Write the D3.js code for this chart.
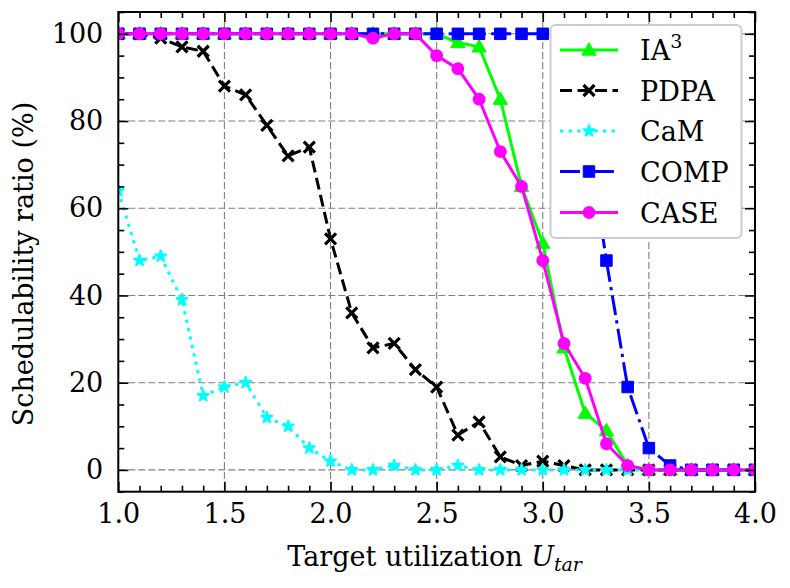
<!DOCTYPE html>
<html><head><meta charset="utf-8">
<script src="https://cdn.jsdelivr.net/npm/d3@7"></script>
<style>
body{margin:0;background:#fff}
svg text{font-family:"DejaVu Serif","DejaVuSerif","DejaVu Serif Condensed","Liberation Serif","Noto Serif",serif !important;fill:#000}
</style>
</head><body>
<svg id="c" width="790" height="588"></svg>
<script>
const utilization = [1.0,1.1,1.2,1.3,1.4,1.5,1.6,1.7,1.8,1.9,2.0,2.1,2.2,2.3,2.4,2.5,2.6,2.7,2.8,2.9,3.0,3.1,3.2,3.3,3.4,3.5,3.6,3.7,3.8,3.9,4.0];
const ia3  = [100,100,100,100,100,100,100,100,100,100,100,100,100,100,100,100,98,97,85,65,52,28,13,9,1,0,0,0,0,0,0];
const pdpa = [100,100,99,97,96,88,86,79,72,74,53,36,28,29,23,19,8,11,3,1,2,1,0,0,0,0,0,0,0,0,0];
const cam  = [64,48,49,39,17,19,20,12,10,5,2,0,0,1,0,0,1,0,0,0,0,0,0,0,0,0,0,0,0,0,0];
const comp = [100,100,100,100,100,100,100,100,100,100,100,100,100,100,100,100,100,100,100,100,100,100,80,48,19,5,1,0,0,0,0];
const caseS= [100,100,100,100,100,100,100,100,100,100,100,100,99,100,100,95,92,85,73,65,48,29,21,6,1,0,0,0,0,0,0];
const seriesNames = ["IA3","PDPA","CaM","COMP","CASE"];
const xTicks = [1.0,1.5,2.0,2.5,3.0,3.5,4.0];
const xMinor = [1.1,1.2,1.3,1.4,1.6,1.7,1.8,1.9,2.1,2.2,2.3,2.4,2.6,2.7,2.8,2.9,3.1,3.2,3.3,3.4,3.6,3.7,3.8,3.9];
const yTicks = [0,20,40,60,80,100];
const yMinor = [-5,5,10,15,25,30,35,45,50,55,65,70,75,85,90,95,105];

const L=118.3, R=755, T=12, B=491.7;
const svg = d3.select("#c");
const x = d3.scaleLinear().domain([1,4]).range([L,R]);
const y = d3.scaleLinear().domain([-5,105]).range([B,T]);

const styles = [
  {name:"IA3", data:ia3, color:"#00ff00", dash:null, marker:"tri"},
  {name:"PDPA", data:pdpa, color:"#000000", dash:"12,5.5", marker:"x"},
  {name:"CaM", data:cam, color:"#00ffff", dash:"3.3,5.3", marker:"star"},
  {name:"COMP", data:comp, color:"#0000ff", dash:"20,5.3,3.3,5.3", marker:"sq"},
  {name:"CASE", data:caseS, color:"#ff00ff", dash:null, marker:"circ"}
];

svg.append("defs").append("clipPath").attr("id","clip")
  .append("rect").attr("x",L).attr("y",T).attr("width",R-L).attr("height",B-T);

// grid
const grid = svg.append("g");
grid.selectAll(".gx").data(xTicks.slice(1,-1)).join("line")
  .attr("x1",d=>x(d)).attr("x2",d=>x(d)).attr("y1",T).attr("y2",B)
  .attr("stroke","#808080").attr("stroke-width",1.1).attr("stroke-dasharray","7,3");
grid.selectAll(".gy").data(yTicks).join("line")
  .attr("x1",L).attr("x2",R).attr("y1",d=>y(d)).attr("y2",d=>y(d))
  .attr("stroke","#808080").attr("stroke-width",1.1).attr("stroke-dasharray","7,3");

function drawMarker(g, type, color, cx, cy){
  if(type==="tri"){
    g.append("path").attr("d",d3.symbol(d3.symbolTriangle,90)()).attr("transform",`translate(${cx},${cy+1})`)
      .attr("fill",color).attr("stroke",color).attr("stroke-width",1);
  } else if(type==="x"){
    const s=5.5;
    g.append("path").attr("d",`M${cx-s},${cy-s}L${cx+s},${cy+s}M${cx-s},${cy+s}L${cx+s},${cy-s}`)
      .attr("stroke",color).attr("stroke-width",3.2).attr("fill","none");
  } else if(type==="star"){
    g.append("path").attr("d",d3.symbol(d3.symbolStar,38)()).attr("transform",`translate(${cx},${cy})`)
      .attr("fill",color).attr("stroke",color).attr("stroke-width",2).attr("stroke-linejoin","round");
  } else if(type==="sq"){
    g.append("path").attr("d",d3.symbol(d3.symbolSquare,132)()).attr("transform",`translate(${cx},${cy})`)
      .attr("fill",color).attr("stroke",color).attr("stroke-width",1);
  } else if(type==="circ"){
    g.append("circle").attr("cx",cx).attr("cy",cy).attr("r",6.4).attr("fill",color);
  }
}

const plot = svg.append("g").attr("clip-path","url(#clip)");
const line = d3.line().x(d=>x(d[0])).y(d=>y(d[1]));
styles.forEach(s=>{
  const pts = utilization.map((u,i)=>[u,s.data[i]]);
  const g = plot.append("g");
  g.append("path").attr("d",line(pts)).attr("fill","none").attr("stroke",s.color)
    .attr("stroke-width",3).attr("stroke-dasharray",s.dash).attr("stroke-linejoin","round");
  pts.forEach(p=>drawMarker(g,s.marker,s.color,x(p[0]),y(p[1])));
});

// axes
function styleAxis(g){
  g.attr("font-family",null);
  g.select(".domain").remove();
  g.selectAll(".tick line").attr("stroke","#000").attr("stroke-width",1.6);
  g.selectAll(".tick text").style("font-size","27px");
}
svg.append("g").attr("transform",`translate(0,${B})`)
  .call(d3.axisBottom(x).tickValues(xTicks).tickSize(-10).tickPadding(12).tickFormat(d3.format(".1f"))).call(styleAxis);
svg.append("g").attr("transform",`translate(0,${B})`)
  .call(d3.axisBottom(x).tickValues(xMinor).tickSize(-6).tickFormat("")).call(styleAxis);
svg.append("g").attr("transform",`translate(0,${T})`)
  .call(d3.axisTop(x).tickValues(xTicks).tickSize(-10).tickFormat("")).call(styleAxis);
svg.append("g").attr("transform",`translate(0,${T})`)
  .call(d3.axisTop(x).tickValues(xMinor).tickSize(-6).tickFormat("")).call(styleAxis);
svg.append("g").attr("transform",`translate(${L},0)`)
  .call(d3.axisLeft(y).tickValues(yTicks).tickSize(-10).tickPadding(15).tickFormat(d3.format("d"))).call(styleAxis);
svg.append("g").attr("transform",`translate(${L},0)`)
  .call(d3.axisLeft(y).tickValues(yMinor).tickSize(-6).tickFormat("")).call(styleAxis);
svg.append("g").attr("transform",`translate(${R},0)`)
  .call(d3.axisRight(y).tickValues(yTicks).tickSize(-10).tickFormat("")).call(styleAxis);
svg.append("g").attr("transform",`translate(${R},0)`)
  .call(d3.axisRight(y).tickValues(yMinor).tickSize(-6).tickFormat("")).call(styleAxis);

svg.append("rect").attr("x",L).attr("y",T).attr("width",R-L).attr("height",B-T)
  .attr("fill","none").attr("stroke","#000").attr("stroke-width",2);

// labels
const xl = svg.append("text").attr("x",(L+R)/2-2).attr("y",566).attr("text-anchor","middle").style("font-size","27px");
xl.append("tspan").text("Target utilization ");
xl.append("tspan").text("U").style("font-style","italic");
xl.append("tspan").text("tar").style("font-style","italic").style("font-size","19px").attr("dy",5);

svg.append("text").attr("transform","translate(33,264) rotate(-90)").attr("text-anchor","middle")
  .style("font-size","27px").text("Schedulability ratio (%)");

// legend
const lg = svg.append("g");
lg.append("rect").attr("x",550.5).attr("y",25).attr("width",191).attr("height",213).attr("rx",5)
  .attr("fill","#fff").attr("stroke","#cccccc").attr("stroke-width",2);
const ly = [50,90.5,131,171.5,212.5];
styles.forEach((s,i)=>{
  const g = lg.append("g");
  g.append("line").attr("x1",560).attr("x2",618).attr("y1",ly[i]).attr("y2",ly[i])
    .attr("stroke",s.color).attr("stroke-width",3).attr("stroke-dasharray",s.dash);
  drawMarker(g,s.marker,s.color,589,ly[i]);
  const t = g.append("text").attr("x",640).attr("y",ly[i]+10).style("font-size","27px");
  if(s.name==="IA3"){
    t.append("tspan").text("IA");
    t.append("tspan").text("3").style("font-size","19px").attr("dy",-12);
  } else t.text(s.name);
});
</script>
</body></html>
